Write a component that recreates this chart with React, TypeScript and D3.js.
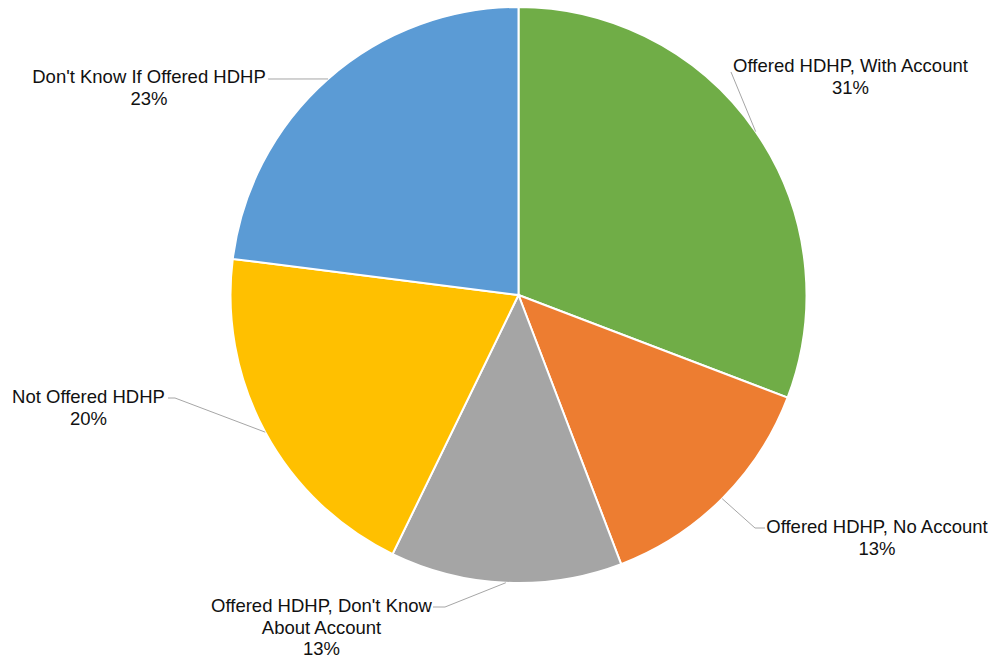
import React from "react";
import * as d3 from "d3";

const categories = [
  "Offered HDHP, With Account",
  "Offered HDHP, No Account",
  "Offered HDHP, Don't Know About Account",
  "Not Offered HDHP",
  "Don't Know If Offered HDHP",
];
const values = [30.8, 13.4, 13.0, 19.8, 23.0];
const labelText = ["31%", "13%", "13%", "20%", "23%"];
const labelLines = [
  ["Offered HDHP, With Account"],
  ["Offered HDHP, No Account"],
  ["Offered HDHP, Don't Know", "About Account"],
  ["Not Offered HDHP"],
  ["Don't Know If Offered HDHP"],
];
const colors = ["#70AD47", "#ED7D31", "#A5A5A5", "#FFC000", "#5B9BD5"];

// layout of labels: text center x, first baseline y, leader attach points
const labelLayout = [
  { x: 850.5, y: 72, attach: [[731, 72]] },
  { x: 877, y: 533, attach: [[765, 528], [755, 528]] },
  { x: 321.5, y: 612, attach: [[433, 607], [445, 607]] },
  { x: 88.5, y: 403, attach: [[168, 398], [175, 398]] },
  { x: 149, y: 83, attach: [[268, 79]] },
];

const W = 995;
const H = 660;
const cx = 518.5;
const cy = 295;
const R = 288;
const LINE = 21.5;

export default function App() {
  const pie = d3.pie<number>().sort(null).value((d) => d);
  const arcs = pie(values);
  const arcGen = d3.arc<d3.PieArcDatum<number>>().innerRadius(0).outerRadius(R);

  return (
    <svg
      width={W}
      height={H}
      style={{ position: "absolute", left: 0, top: 0, background: "#fff" }}
      fontFamily="'Liberation Sans', Arial, sans-serif"
    >
      <g transform={`translate(${cx},${cy})`}>
        {arcs.map((a, i) => (
          <path key={categories[i]} d={arcGen(a) || ""} fill={colors[i]} stroke="#fff" strokeWidth={2} />
        ))}
      </g>
      {arcs.map((a, i) => {
        const mid = (a.startAngle + a.endAngle) / 2;
        const px = cx + R * Math.sin(mid);
        const py = cy - R * Math.cos(mid);
        const pts = [...labelLayout[i].attach, [px, py]];
        const d = d3.line()(pts as [number, number][]) || "";
        return <path key={"l" + i} d={d} fill="none" stroke="#A6A6A6" strokeWidth={1} />;
      })}
      {labelLayout.map((l, i) => {
        const lines = [...labelLines[i], labelText[i]];
        return (
          <text key={"t" + i} x={l.x} y={l.y} textAnchor="middle" fontSize={18.5} fill="#111">
            {lines.map((s, j) => (
              <tspan key={j} x={l.x} y={l.y + j * LINE}>
                {s}
              </tspan>
            ))}
          </text>
        );
      })}
    </svg>
  );
}
